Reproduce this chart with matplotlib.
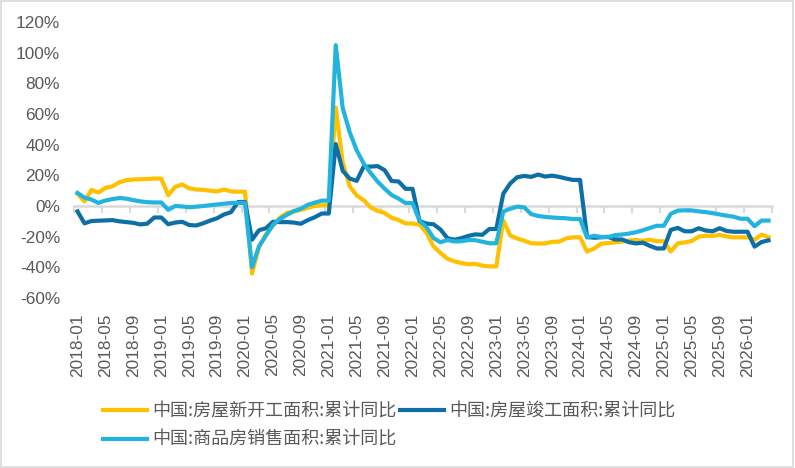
import matplotlib
matplotlib.use('Agg')
import matplotlib.pyplot as plt
from matplotlib.patches import Rectangle
import pandas as pd

# monthly axis 2018-01 .. 2026-04 (January repeats the previous December)
months = pd.period_range('2018-01', '2026-04', freq='M').strftime('%Y-%m').tolist()

# 中国:房屋新开工面积:累计同比 (%)
new_start = [
    8.0, 3.0, 10.5, 8.8, 11.8, 12.8, 15.5, 16.8, 17.3, 17.4, 17.6, 17.9,            # 2018
    17.9, 7.0, 12.5, 14.0, 11.5, 10.8, 10.5, 10.0, 9.5, 10.8, 9.5, 9.3,             # 2019
    9.3, -44.0, -27.0, -18.4, -12.8, -7.6, -4.5, -3.6, -2.5, -1.2, 0.0, 0.5,        # 2020
    0.5, 64.3, 28.2, 12.8, 6.9, 3.8, -0.9, -3.2, -4.5, -7.7, -9.1, -11.4,           # 2021
    -11.4, -12.2, -17.5, -26.3, -30.6, -34.4, -36.1, -37.2, -38.0, -37.8, -38.9, -39.4,  # 2022
    -39.4, -9.4, -19.2, -21.2, -22.6, -24.3, -24.5, -24.4, -23.4, -23.2, -21.2, -20.4,   # 2023
    -20.4, -29.7, -27.8, -24.6, -24.2, -23.7, -23.2, -22.5, -22.2, -22.6, -22.0, -23.0,  # 2024
    -23.0, -29.6, -24.4, -23.8, -22.8, -20.0, -19.4, -19.5, -18.9, -19.8, -20.5, -20.4,  # 2025
    -20.4, -22.0, -18.7, -20.4,                                                      # 2026
]

# 中国:房屋竣工面积:累计同比 (%)
completed = [
    -3.5, -11.3, -9.8, -9.6, -9.4, -9.2, -10.0, -10.5, -11.0, -12.0, -11.5, -7.5,   # 2018
    -7.5, -11.9, -10.8, -10.3, -12.4, -12.7, -11.3, -9.5, -8.0, -5.5, -4.0, 2.6,    # 2019
    2.6, -22.0, -15.8, -14.5, -10.3, -10.5, -10.5, -10.8, -11.6, -9.2, -7.3, -4.9,  # 2020
    -4.9, 40.4, 22.9, 17.9, 16.4, 25.7, 25.7, 26.0, 23.4, 16.3, 16.0, 11.2,         # 2021
    11.2, -9.8, -11.5, -11.9, -15.3, -21.0, -22.0, -21.0, -19.5, -18.5, -18.8, -15.0,  # 2022
    -15.0, 8.0, 14.7, 18.8, 19.6, 19.0, 20.5, 19.2, 19.8, 19.0, 17.9, 17.0,         # 2023
    17.0, -20.2, -20.7, -20.4, -20.1, -21.8, -21.8, -23.6, -24.4, -23.9, -26.0, -27.7,  # 2024
    -27.7, -15.6, -14.3, -16.5, -16.5, -14.5, -16.0, -16.5, -14.5, -16.3, -16.8, -16.8,  # 2025
    -16.8, -26.5, -23.5, -22.4,                                                      # 2026
]

# 中国:商品房销售面积:累计同比 (%)
sales = [
    8.5, 5.5, 4.2, 2.0, 3.6, 4.5, 5.2, 4.8, 3.8, 3.0, 2.5, 2.3,                     # 2018
    2.3, -2.5, 0.0, -0.3, -0.8, -0.5, 0.0, 0.5, 1.0, 1.5, 2.0, 2.0,                 # 2019
    2.0, -39.9, -26.3, -19.3, -12.3, -8.4, -5.8, -3.3, -1.8, 0.8, 2.2, 3.5,         # 2020
    3.5, 104.9, 63.8, 48.1, 36.3, 27.7, 21.5, 15.9, 11.3, 7.2, 4.8, 1.9,            # 2021
    1.9, -9.6, -13.8, -20.9, -23.6, -22.2, -23.1, -23.0, -22.2, -22.3, -23.3, -24.3,  # 2022
    -24.3, -3.6, -1.8, -0.4, -0.9, -5.3, -6.5, -7.1, -7.5, -7.8, -8.0, -8.5,        # 2023
    -8.5, -20.5, -19.4, -20.2, -20.3, -19.0, -18.6, -18.0, -17.1, -15.8, -14.3, -12.9,  # 2024
    -12.9, -5.1, -3.0, -2.8, -2.9, -3.5, -4.0, -4.7, -5.5, -6.3, -7.0, -8.3,        # 2025
    -8.3, -13.2, -9.5, -9.5,                                                         # 2026
]

names = ['中国:房屋新开工面积:累计同比', '中国:房屋竣工面积:累计同比', '中国:商品房销售面积:累计同比']
colors = ['#FFC000', '#0E6FA6', '#22B4DE']
text_color = '#595959'
grey = '#D9D9D9'

plt.rcParams['font.family'] = ['Liberation Sans', 'Noto Sans CJK SC']

fig = plt.figure(figsize=(7.95, 4.68), dpi=100)
ax = fig.add_axes([74 / 795, 1 - 298 / 468, (772 - 74) / 795, (298 - 22) / 468])

x = list(range(len(months)))
lines = []
for ys, c, n in zip([new_start, completed, sales], colors, names):
    ln, = ax.plot(x, ys, color=c, lw=3, label=n)
    lines.append(ln)

ax.set_xlim(-0.5, len(months) - 0.5)
ax.set_ylim(-60, 120)
ax.set_yticks(range(-60, 121, 20))
ax.set_yticklabels([f'{v}%' for v in range(-60, 121, 20)])
ax.tick_params(axis='y', length=0, pad=10, labelsize=12.4, labelcolor=text_color)

for s in ['top', 'right', 'left']:
    ax.spines[s].set_visible(False)
# horizontal axis line crosses at 0
ax.spines['bottom'].set_position(('data', 0))
ax.spines['bottom'].set_color(grey)
ax.spines['bottom'].set_linewidth(1.8)
ax.spines['bottom'].set_zorder(0)
label_idx = list(range(0, len(months), 4))
ax.set_xticks([i - 0.5 for i in label_idx] + [len(months) - 0.5])
ax.tick_params(axis='x', length=5, width=1.5, color=grey, labelbottom=False, direction='out')

# date labels stay at the bottom of the plot
sec = ax.secondary_xaxis('bottom')
sec.set_ticks(label_idx, labels=[months[i] for i in label_idx], rotation=90)
sec.tick_params(length=0, pad=11, labelsize=12.4, labelcolor=text_color)
sec.spines['bottom'].set_visible(False)

leg = fig.legend([lines[0], lines[2], lines[1]], [names[0], names[2], names[1]],
                 loc='upper left', bbox_to_anchor=(103 / 795, 1 - 402 / 468),
                 ncol=2, frameon=False, borderpad=0, borderaxespad=0,
                 handlelength=2.45, handletextpad=0.3, columnspacing=0.15,
                 labelspacing=0.6,
                 prop={'family': ['Noto Sans CJK SC'], 'size': 13})
for t in leg.get_texts():
    t.set_color(text_color)

fig.patches.append(Rectangle((0.001, 0.002), 0.997, 0.996, transform=fig.transFigure,
                             fill=False, ec=grey, lw=1.2))

fig.savefig('out.png', dpi=100)
